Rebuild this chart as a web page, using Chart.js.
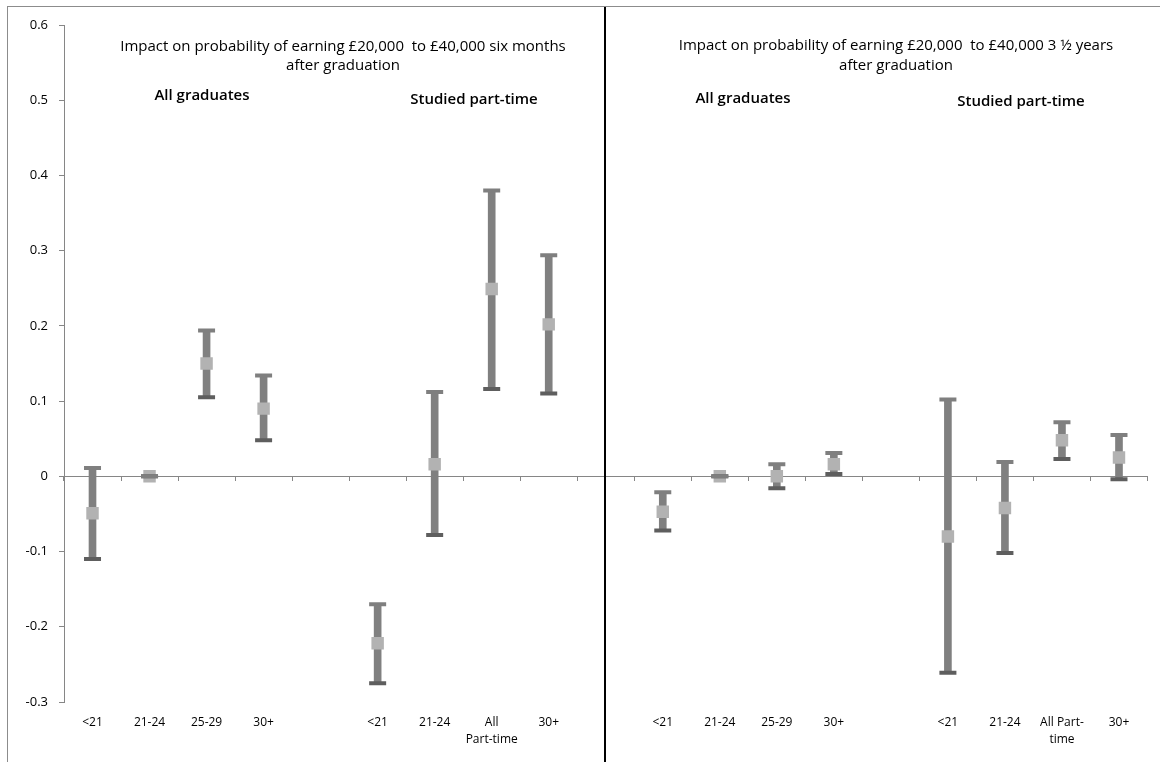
<!DOCTYPE html>
<html lang="en">
<head>
    <meta charset="UTF-8">
    <title>Impact on probability of earning £20,000 to £40,000</title>
    <script src="https://cdn.jsdelivr.net/npm/chart.js"></script>
    <style>
        html, body {
            margin: 0;
            padding: 0;
            background: #fff;
        }
        #wrap {
            position: relative;
            width: 1160px;
            height: 762px;
        }
    </style>
</head>
<body>
    <div id="wrap"><canvas id="myChart"></canvas></div>

    <script>
        // categories (empty slots separate the four groups)
        const categories = ['<21', '21-24', '25-29', '30+', '',
            '<21', '21-24', ['All', 'Part-time'], '30+', '',
            '<21', '21-24', '25-29', '30+', '',
            '<21', '21-24', ['All Part-', 'time'], '30+'];

        const estimates = [-0.049, 0, 0.150, 0.090, null,
            -0.222, 0.016, 0.249, 0.202, null,
            -0.047, 0, 0, 0.016, null,
            -0.080, -0.042, 0.048, 0.025];
        const upper = [0.011, 0, 0.194, 0.134, null,
            -0.170, 0.112, 0.380, 0.294, null,
            -0.021, 0, 0.016, 0.031, null,
            0.102, 0.019, 0.072, 0.055];
        const lower = [-0.110, 0, 0.105, 0.048, null,
            -0.275, -0.078, 0.116, 0.110, null,
            -0.072, 0, -0.016, 0.003, null,
            -0.261, -0.102, 0.023, -0.004];

        const yTicks = { min: -0.3, max: 0.6, step: 0.1 };

        const panelTitles = [
            ['Impact on probability of earning £20,000  to £40,000 six months', 'after graduation'],
            ['Impact on probability of earning £20,000  to £40,000 3 ½ years', 'after graduation']
        ];
        const groupNames = ['All graduates', 'Studied part-time', 'All graduates', 'Studied part-time'];

        const FONT = '"Open Sans", Lato, sans-serif';
        Chart.defaults.font.family = FONT;

        const decor = {
            id: 'decor',
            beforeDraw(chart) {
                const ctx = chart.ctx;
                ctx.save();
                ctx.fillStyle = '#fff';
                ctx.fillRect(0, 0, chart.width, chart.height);
                ctx.strokeStyle = '#8c8c8c';
                ctx.lineWidth = 1;
                ctx.strokeRect(7.5, 6.5, chart.width + 20, chart.height + 20);
                ctx.restore();
            },
            afterDraw(chart) {
                const ctx = chart.ctx;
                const x = chart.scales.x;
                ctx.save();
                // divider between the two panels
                const xd = Math.round(x.getPixelForValue(9)) - 1;
                ctx.strokeStyle = '#000';
                ctx.lineWidth = 2;
                ctx.beginPath();
                ctx.moveTo(xd, 7);
                ctx.lineTo(xd, chart.height);
                ctx.stroke();

                ctx.fillStyle = '#000';
                ctx.textAlign = 'center';
                ctx.textBaseline = 'middle';
                ctx.font = '15px ' + FONT;
                ctx.fillText(panelTitles[0][0], 343, 47, 450);
                ctx.fillText(panelTitles[0][1], 343, 66, 124);
                ctx.fillText(panelTitles[1][0], 896, 46, 440);
                ctx.fillText(panelTitles[1][1], 896, 66, 122);

                ctx.font = '600 15px ' + FONT;
                ctx.fillText(groupNames[0], 202, 96, 96);
                ctx.fillText(groupNames[1], 474, 100, 128);
                ctx.fillText(groupNames[2], 743, 99, 96);
                ctx.fillText(groupNames[3], 1021, 102, 132);
                ctx.restore();
            }
        };

        const ctx = document.getElementById('myChart').getContext('2d');
        const myChart = new Chart(ctx, {
            type: 'bar',
            data: {
                labels: categories,
                datasets: [
                    {
                        type: 'line',
                        label: 'upper cap',
                        data: upper,
                        showLine: false,
                        pointStyle: 'line',
                        pointRadius: 8.5,
                        pointBorderWidth: 4,
                        pointBorderColor: '#7f7f7f',
                        order: 0
                    },
                    {
                        type: 'line',
                        label: 'lower cap',
                        data: lower,
                        showLine: false,
                        pointStyle: 'line',
                        pointRadius: 8.5,
                        pointBorderWidth: 4,
                        pointBorderColor: '#5e5e5e',
                        order: 1
                    },
                    {
                        type: 'line',
                        label: 'estimate',
                        data: estimates,
                        showLine: false,
                        pointStyle: 'rect',
                        pointRadius: 8.8,
                        pointBorderWidth: 0,
                        pointBackgroundColor: '#b2b2b2',
                        order: 2
                    },
                    {
                        type: 'bar',
                        label: 'range',
                        data: lower.map((l, i) => l === null ? null : [l, upper[i]]),
                        barThickness: 7,
                        backgroundColor: '#808080',
                        borderWidth: 0,
                        order: 3
                    }
                ]
            },
            options: {
                responsive: true,
                maintainAspectRatio: false,
                animation: false,
                events: [],
                layout: { padding: { top: 25, right: 10, bottom: 0, left: 0 } },
                plugins: {
                    legend: { display: false },
                    tooltip: { enabled: false }
                },
                scales: {
                    x: {
                        type: 'category',
                        position: { y: 0 },
                        offset: true,
                        grid: {
                            offset: true,
                            drawOnChartArea: false,
                            drawTicks: true,
                            tickLength: 4,
                            color: '#868686'
                        },
                        border: { color: '#868686', width: 1 },
                        ticks: { display: false }
                    },
                    x2: {
                        type: 'category',
                        position: 'bottom',
                        labels: categories,
                        offset: true,
                        grid: { display: false, drawTicks: false },
                        border: { display: false },
                        ticks: {
                            color: '#000',
                            font: { size: 12, lineHeight: 1.4 },
                            padding: 12,
                            maxRotation: 0,
                            autoSkip: false
                        },
                        afterFit: s => { s.height = 60; }
                    },
                    y: {
                        min: yTicks.min,
                        max: yTicks.max,
                        grid: {
                            drawOnChartArea: false,
                            drawTicks: true,
                            tickLength: 5,
                            color: '#868686'
                        },
                        border: { color: '#868686', width: 1 },
                        ticks: {
                            stepSize: yTicks.step,
                            color: '#000',
                            font: { size: 13 },
                            padding: 11,
                            callback: v => String(Math.round(v * 10) / 10)
                        },
                        afterFit: s => { s.width = 64; }
                    }
                }
            },
            plugins: [decor]
        });
    </script>
</body>
</html>
